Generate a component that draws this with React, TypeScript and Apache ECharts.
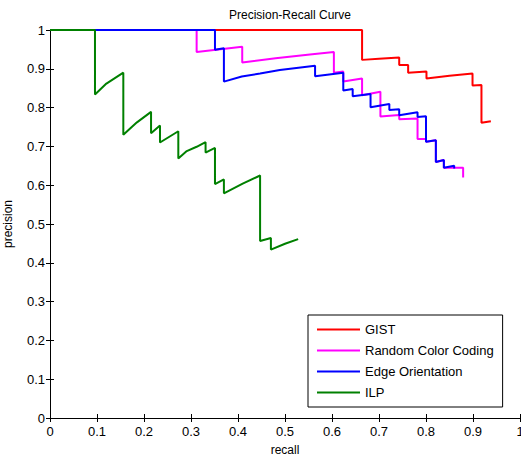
import React, { useEffect, useRef } from "react";
import * as echarts from "echarts";

const seriesNames = ["GIST", "Random Color Coding", "Edge Orientation", "ILP"];
const seriesColors = ["#ff0000", "#ff00ff", "#0000ff", "#008000"];

const gistPoints: [number, number][] = [
  [0, 1], [0.664, 1], [0.664, 0.923], [0.70, 0.926], [0.743, 0.929], [0.743, 0.91],
  [0.762, 0.91], [0.762, 0.89], [0.801, 0.893], [0.801, 0.875], [0.85, 0.882],
  [0.899, 0.888], [0.899, 0.857], [0.918, 0.858], [0.918, 0.761], [0.938, 0.765],
];

const randomColorPoints: [number, number][] = [
  [0, 1], [0.312, 1], [0.312, 0.943], [0.409, 0.957], [0.409, 0.916], [0.48, 0.927],
  [0.553, 0.937], [0.604, 0.943], [0.604, 0.89], [0.624, 0.893], [0.624, 0.867],
  [0.664, 0.875], [0.664, 0.832], [0.703, 0.841], [0.703, 0.777], [0.743, 0.781],
  [0.743, 0.77], [0.782, 0.772], [0.782, 0.719], [0.8, 0.719], [0.8, 0.712],
  [0.821, 0.716], [0.821, 0.66], [0.838, 0.665], [0.838, 0.645], [0.879, 0.645],
  [0.879, 0.62],
];

const edgePoints: [number, number][] = [
  [0, 1], [0.351, 1], [0.351, 0.949], [0.37, 0.953], [0.37, 0.867], [0.408, 0.88],
  [0.447, 0.888], [0.489, 0.897], [0.564, 0.908], [0.564, 0.881], [0.624, 0.89],
  [0.624, 0.844], [0.644, 0.848], [0.644, 0.829], [0.682, 0.835], [0.682, 0.801],
  [0.722, 0.809], [0.722, 0.794], [0.743, 0.796], [0.743, 0.78], [0.782, 0.788],
  [0.782, 0.776], [0.8, 0.778], [0.8, 0.712], [0.821, 0.716], [0.821, 0.66],
  [0.838, 0.665], [0.838, 0.645], [0.86, 0.65], [0.86, 0.643],
];

const ilpPoints: [number, number][] = [
  [0, 1], [0.0957, 1], [0.0957, 0.834], [0.12, 0.862], [0.156, 0.89], [0.156, 0.73],
  [0.185, 0.762], [0.215, 0.789], [0.215, 0.734], [0.234, 0.754], [0.234, 0.71],
  [0.273, 0.739], [0.273, 0.669], [0.291, 0.688], [0.312, 0.699], [0.331, 0.711],
  [0.331, 0.684], [0.351, 0.696], [0.351, 0.603], [0.37, 0.615], [0.37, 0.579],
  [0.41, 0.604], [0.447, 0.625], [0.447, 0.456], [0.47, 0.464], [0.47, 0.434],
  [0.5, 0.449], [0.528, 0.461],
];

const allPoints = [gistPoints, randomColorPoints, edgePoints, ilpPoints];

const FONT = "Liberation Sans, Arial, sans-serif";
const fmt = (v: number) => String(Math.round(v * 10) / 10);

export default function App() {
  const ref = useRef<HTMLDivElement>(null);
  useEffect(() => {
    if (!ref.current) return;
    const chart = echarts.init(ref.current, undefined, { renderer: "svg" });
    const axisLine = { show: true, lineStyle: { color: "#000", width: 1 } };
    const tick = { show: true, inside: true, length: 4, lineStyle: { color: "#000" } };
    chart.setOption({
      animation: false,
      backgroundColor: "#fff",
      title: {
        text: "Precision-Recall Curve",
        left: 285,
        textAlign: "center",
        top: 4,
        textStyle: { fontFamily: FONT, fontSize: 12, fontWeight: "normal", color: "#000" },
      },
      grid: { left: 50, top: 30, right: 1, bottom: 41, containLabel: false, outerBoundsMode: "none" },
      legend: {
        orient: "vertical",
        left: 308,
        top: 315,
        width: 200,
        padding: [8, 9, 8, 9],
        borderColor: "#000",
        borderWidth: 1,
        backgroundColor: "#fff",
        icon: "rect",
        itemWidth: 43,
        itemHeight: 2,
        itemGap: 8,
        textStyle: { fontFamily: FONT, fontSize: 13, color: "#000" },
        data: seriesNames,
      },
      xAxis: [
        {
          type: "value",
          min: 0,
          max: 1,
          interval: 0.1,
          name: "recall",
          nameLocation: "middle",
          nameGap: 26,
          nameTextStyle: { fontFamily: FONT, fontSize: 12, color: "#000" },
          axisLine,
          axisTick: tick,
          splitLine: { show: false },
          axisLabel: { fontFamily: FONT, fontSize: 13, color: "#000", margin: 7, formatter: fmt },
        },
        {
          type: "value",
          position: "top",
          min: 0,
          max: 1,
          interval: 0.1,
          axisLine,
          axisTick: tick,
          splitLine: { show: false },
          axisLabel: { show: false },
        },
      ],
      yAxis: [
        {
          type: "value",
          min: 0,
          max: 1,
          interval: 0.1,
          name: "precision",
          nameLocation: "middle",
          nameGap: 36,
          nameTextStyle: { fontFamily: FONT, fontSize: 12, color: "#000" },
          axisLine,
          axisTick: tick,
          splitLine: { show: false },
          axisLabel: { fontFamily: FONT, fontSize: 13, color: "#000", margin: 5, formatter: fmt },
        },
        {
          type: "value",
          position: "right",
          min: 0,
          max: 1,
          interval: 0.1,
          axisLine,
          axisTick: tick,
          splitLine: { show: false },
          axisLabel: { show: false },
        },
      ],
      series: seriesNames.map((name, i) => ({
        name,
        type: "line",
        data: allPoints[i],
        showSymbol: false,
        symbol: "none",
        clip: false,
        color: seriesColors[i],
        lineStyle: { color: seriesColors[i], width: 2 },
        z: 2 + i,
      })),
    });
    return () => chart.dispose();
  }, []);
  return <div ref={ref} style={{ width: 521, height: 459, position: "absolute", left: 0, top: 0 }} />;
}
